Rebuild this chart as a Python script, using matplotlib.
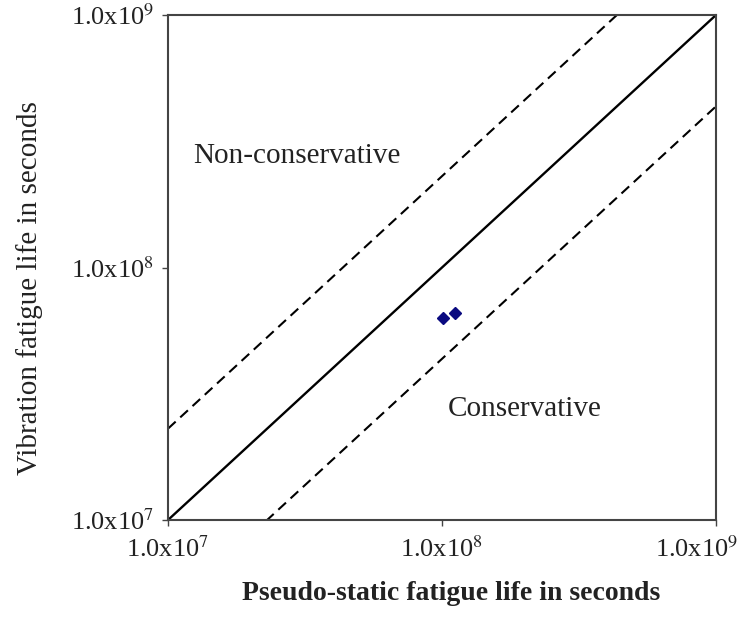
import numpy as np
import matplotlib.pyplot as plt
import matplotlib.transforms as mtransforms

plt.rcParams['font.family'] = ['Liberation Serif', 'DejaVu Serif']
plt.rcParams['mathtext.fontset'] = 'stix'

# axis limits and ticks (seconds)
lims = [1e7, 1e9]
ticks = [1e7, 1e8, 1e9]
tick_labels = ['1.0x10$^{7}$', '1.0x10$^{8}$', '1.0x10$^{9}$']

# scatter band factor around the 1:1 line
band = 2.3

# measured points: pseudo-static vs vibration fatigue life
pseudo_static = [1.01e8, 1.12e8]
vibration = [6.3e7, 6.6e7]

fig = plt.figure(figsize=(7.44, 6.17), dpi=100)
ax = fig.add_axes([0.2258, 0.1572, 0.7366, 0.8185])

x = np.array(lims)
ax.plot(x, x, color='black', lw=1.7)
ax.plot(x, x * band, color='black', lw=1.5, ls=(0, (5, 3)))
ax.plot(x, x / band, color='black', lw=1.5, ls=(0, (5, 3)))

ax.plot(pseudo_static, vibration, ls='none', marker='D', ms=6,
        color='#0a0a80')

ax.set_xscale('log')
ax.set_yscale('log')
ax.set_xlim(lims)
ax.set_ylim(lims)
ax.minorticks_off()
ax.set_xticks(ticks)
ax.set_xticklabels(tick_labels)
ax.set_yticks(ticks)
ax.set_yticklabels(tick_labels)
ax.tick_params(axis='both', labelsize=19, length=4, width=1, color='#444',
               labelcolor='#222')
ax.tick_params(axis='x', pad=8)
ax.tick_params(axis='y', pad=6)
for sp in ax.spines.values():
    sp.set_color('#444')
    sp.set_linewidth(1.5)

# keep the right-most x label inside the figure
last = ax.get_xticklabels()[-1]
last.set_ha('right')
last.set_transform(last.get_transform() +
                   mtransforms.ScaledTranslation(0.22, 0, fig.dpi_scale_trans))

ax.text(0.235, 0.72, 'Non-conservative', transform=ax.transAxes,
        ha='center', va='center', fontsize=21, color='#222')
ax.text(0.65, 0.22, 'Conservative', transform=ax.transAxes,
        ha='center', va='center', fontsize=21, color='#222')

ax.set_ylabel('Vibration fatigue life in seconds', fontsize=21, color='#222')
ax.yaxis.set_label_coords(-0.228, 0.46)
fig.text(0.606, 0.018, 'Pseudo-static fatigue life in seconds',
         ha='center', va='bottom', fontsize=20, fontweight='bold',
         color='#222')

fig.savefig('out.png', dpi=100)
